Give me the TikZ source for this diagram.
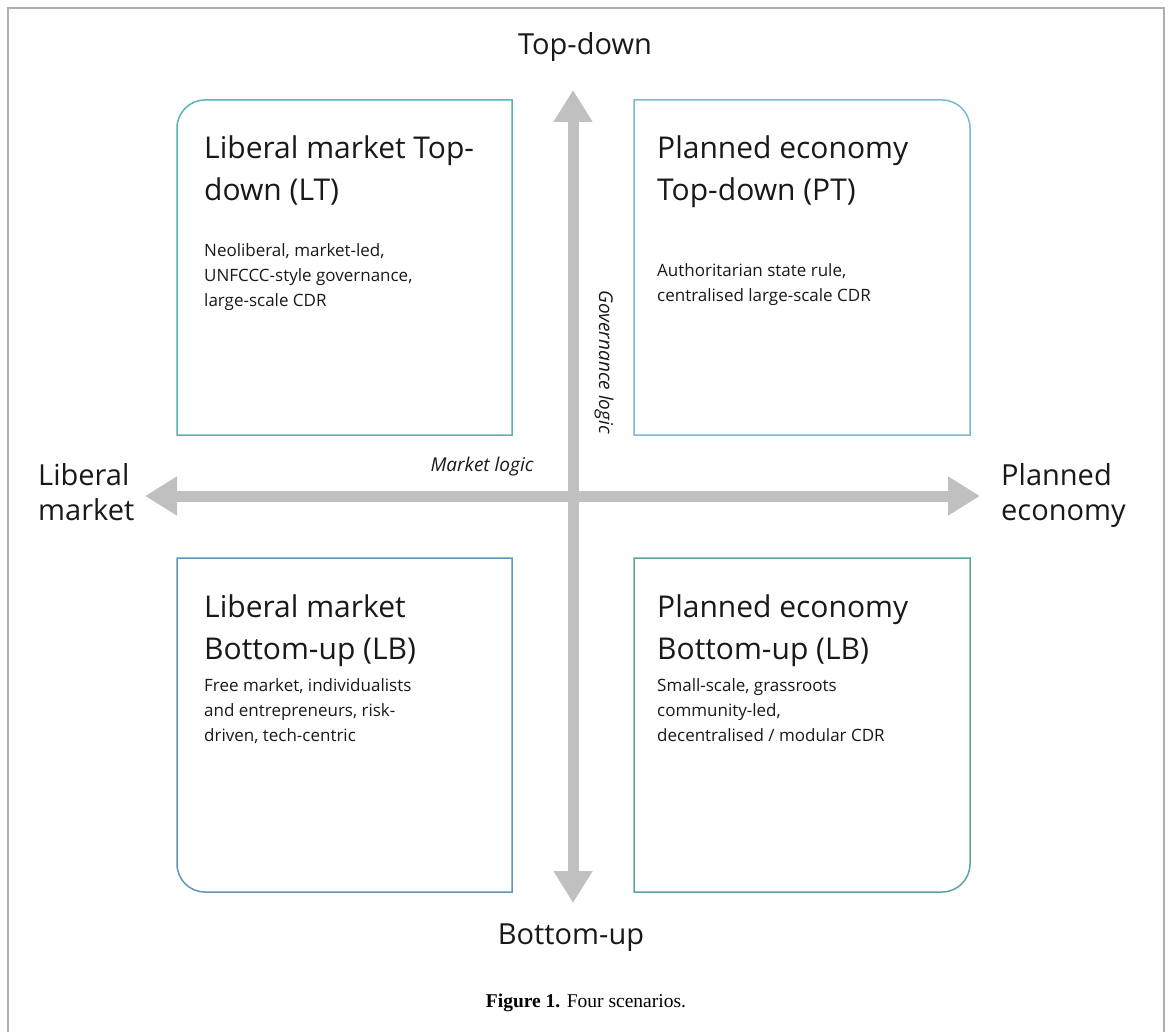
\documentclass[tikz,border=0pt]{standalone}
\usepackage{fontspec}
\setmainfont{Open Sans}
\newfontfamily\capfont{Liberation Serif}
\usepackage{xcolor}
\usepackage{tikz}
\usetikzlibrary{arrows.meta,positioning,calc}

\definecolor{axisgrey}{RGB}{192,192,192}
\definecolor{framegrey}{RGB}{175,175,175}
\definecolor{ltcol}{RGB}{88,180,184}
\definecolor{ptcol}{RGB}{125,185,215}
\definecolor{lbcol}{RGB}{95,150,185}
\definecolor{pbcol}{RGB}{90,165,160}
\definecolor{inkcol}{RGB}{25,25,25}

\begin{document}
\begin{tikzpicture}[x=1pt,y=-1pt,
  every node/.style={inner sep=0pt,text=inkcol,align=left},
  scentitle/.style={anchor=north west,font=\fontsize{30}{42}\selectfont},
  scenbody/.style={anchor=north west,font=\fontsize{17}{25}\selectfont},
  axislabel/.style={font=\fontsize{29}{35}\selectfont},
  logiclabel/.style={font=\fontsize{19}{22}\selectfont\itshape},
  axisarrow/.style={draw=axisgrey,line width=11pt,
    {Triangle[width=37pt,length=32pt]}-{Triangle[width=37pt,length=32pt]}},
  boxline/.style={line width=1.5pt}]
  \useasboundingbox (0,0) rectangle (1169,1032);
  % frame
  \draw[framegrey,line width=1.5pt] (8,1032) -- (8,8) -- (1164,8) -- (1164,1032);

  % axes
  \coordinate (west) at (145,496);
  \coordinate (east) at (980,496);
  \coordinate (north) at (573,90);
  \coordinate (south) at (573,903);
  \draw[axisarrow] (west) -- (east);
  \draw[axisarrow] (north) -- (south);

  % axis labels
  \node[axislabel] (topdown) at (585,47) {Top-down};
  \node[axislabel] (bottomup) at (571,938) {Bottom-up};
  \node[axislabel,anchor=base west] (libmarket) at (38,520) {Liberal\\market};
  \node[axislabel,anchor=base west] (planecon) at (1001,520) {Planned\\economy};
  \node[logiclabel] (marketlogic) at (482,467) {Market logic};
  \node[logiclabel,rotate=-90] (govlogic) at (604,362) {Governance logic};

  % quadrant boxes, rounded on the outer corner
  \draw[boxline,ltcol] (177,435) -- (177,128) arc[start angle=180,end angle=90,radius=28pt]
    -- (512,100) -- (512,435) -- cycle;
  \draw[boxline,ptcol] (634,435) -- (634,100) -- (942,100)
    arc[start angle=90,end angle=0,radius=28pt] -- (970,435) -- cycle;
  \draw[boxline,lbcol] (177,558) -- (177,864) arc[start angle=180,end angle=270,radius=28pt]
    -- (512,892) -- (512,558) -- cycle;
  \draw[boxline,pbcol] (634,558) -- (634,892) -- (942,892)
    arc[start angle=270,end angle=360,radius=28pt] -- (970,558) -- cycle;

  % top left
  \node[scentitle] (lttitle) at (204,136) {Liberal market Top-\\down (LT)};
  \node[scenbody] (ltbody) at (204,243) {Neoliberal, market-led,\\UNFCCC-style governance,\\large-scale CDR};
  % top right
  \node[scentitle] (pttitle) at (657,136) {Planned economy\\Top-down (PT)};
  \node[scenbody] (ptbody) at (657,263) {Authoritarian state rule,\\centralised large-scale CDR};
  % bottom left
  \node[scentitle] (lbtitle) at (204,595) {Liberal market\\Bottom-up (LB)};
  \node[scenbody] (lbbody) at (204,678) {Free market, individualists\\and entrepreneurs, risk-\\driven, tech-centric};
  % bottom right
  \node[scentitle] (pbtitle) at (657,595) {Planned economy\\Bottom-up (LB)};
  \node[scenbody] (pbbody) at (657,678) {Small-scale, grassroots\\community-led,\\decentralised / modular CDR};

  % caption
  \node[font=\capfont\fontsize{19.5}{22}\selectfont,text=black] (caption) at (586,1003)
    {\textbf{Figure 1.} Four scenarios.};
\end{tikzpicture}
\end{document}
